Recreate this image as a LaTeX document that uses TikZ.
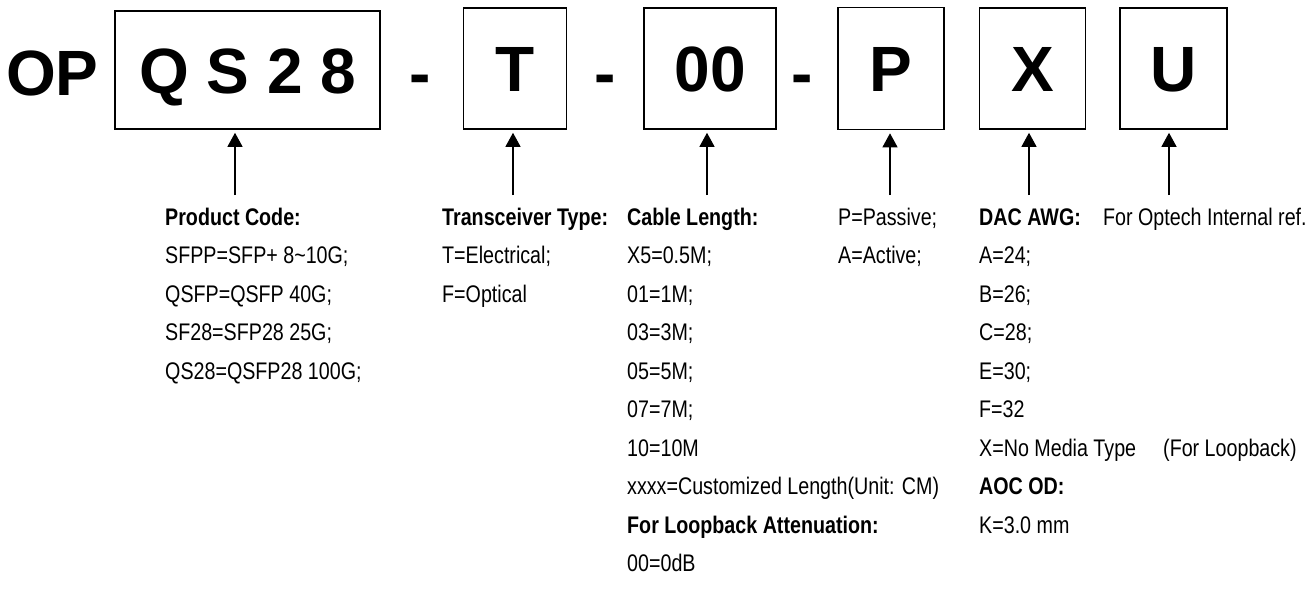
\documentclass[tikz,border=0pt]{standalone}
\usepackage{fontspec}
\setmainfont{Liberation Sans}
\newfontfamily\narrowfont{Liberation Sans}[FakeStretch=0.82]
\usetikzlibrary{arrows.meta,positioning}

\begin{document}
\begin{tikzpicture}[
    x=1pt, y=-1pt,
    >={Triangle[length=14pt, width=15pt]},
    codebox/.style={
        draw=black, line width=1.6pt, inner sep=0pt,
        text height=46pt, text depth=0pt,
        font=\fontsize{64}{64}\selectfont\bfseries
      },
    codetext/.style={inner sep=0pt, font=\fontsize{64}{64}\selectfont\bfseries},
    note/.style={anchor=base west, inner sep=0pt, font=\narrowfont\fontsize{24}{24}\selectfont},
    head/.style={note, font=\narrowfont\fontsize{24}{24}\selectfont\bfseries},
    pointer/.style={->, line width=1.2pt, shorten >=3pt},
  ]
  \useasboundingbox (0,0) rectangle (1315,589);

  % code boxes
  \node[codetext, anchor=base west] (op) at (6,95) {OP};
  \node[codebox, minimum width=265pt, minimum height=118pt] (qs) at (247.5,70) {Q S 2 8};
  \node[codebox, minimum width=103pt, minimum height=121pt] (type) [right=82pt of qs.south east, anchor=south west] {T};
  \node[codebox, minimum width=132pt, minimum height=121pt] (len) [right=76pt of type] {00};
  \node[codebox, minimum width=106pt, minimum height=122pt] (pas) [right=60pt of len] {P};
  \node[codebox, minimum width=106pt, minimum height=121pt] (awg) [right=34pt of pas] {X};
  \node[codebox, minimum width=107pt, minimum height=121pt] (ref) [right=33pt of awg] {U};
  \node[codetext, anchor=base] (dash1) at (420,95) {-};
  \node[codetext, anchor=base] (dash2) at (605.5,95) {-};
  \node[codetext, anchor=base] (dash3) at (802.5,95) {-};

  % arrow feet
  \coordinate (qs-foot) at (235,195);
  \coordinate (type-foot) at (513,195);
  \coordinate (len-foot) at (707,195);
  \coordinate (pas-foot) at (890,195);
  \coordinate (awg-foot) at (1029,195);
  \coordinate (ref-foot) at (1169,195);
  \foreach \b in {qs,type,len,pas,awg,ref}
    \draw[pointer] (\b-foot) -- (\b-foot |- \b.south);

  % descriptions
  \node[head] (qs-head) at (165,225) {Product Code:};
  \foreach \txt [count=\i] in {SFPP=SFP+ 8\textasciitilde10G;, QSFP=QSFP 40G;,
      SF28=SFP28 25G;, QS28=QSFP28 100G;}
    \node[note] (qs-\i) at (165,{225+38.5*\i}) {\txt};

  \node[head] (type-head) at (442,225) {Transceiver Type:};
  \foreach \txt [count=\i] in {T=Electrical;, F=Optical}
    \node[note] (type-\i) at (442,{225+38.5*\i}) {\txt};

  \node[head] (len-head) at (627,225) {Cable Length:};
  \foreach \txt [count=\i] in {X5=0.5M;, 01=1M;, 03=3M;, 05=5M;, 07=7M;, 10=10M,
      xxxx=Customized Length(Unit: CM), {\bfseries For Loopback Attenuation:}, 00=0dB}
    \node[note] (len-\i) at (627,{225+38.5*\i}) {\txt};

  \node[note] (pas-head) at (838,225) {P=Passive;};
  \node[note] (pas-1) at (838,263.5) {A=Active;};

  \node[head] (awg-head) at (979,225) {DAC AWG:};
  \foreach \txt [count=\i] in {A=24;, B=26;, C=28;, E=30;, F=32,
      X=No Media Type, {\bfseries AOC OD:}, K=3.0 mm}
    \node[note] (awg-\i) at (979,{225+38.5*\i}) {\txt};
  \node[note] (awg-loop) at (1163,456) {(For Loopback)};
  \node[note] (ref-head) at (1103,225) {For Optech Internal ref.};
\end{tikzpicture}
\end{document}
